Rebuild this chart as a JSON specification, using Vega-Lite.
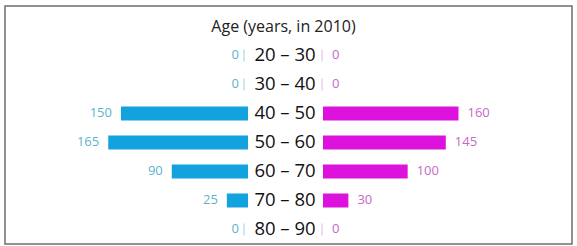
{
  "$schema": "https://vega.github.io/schema/vega-lite/v6.json",
  "width": 567,
  "height": 238,
  "autosize": {"type": "none"},
  "padding": {"left": 5, "top": 6, "right": 5, "bottom": 2},
  "background": "white",
  "title": {
    "text": "Age (years, in 2010)",
    "font": "Open Sans",
    "fontSize": 16,
    "fontWeight": "normal",
    "color": "#222222",
    "anchor": "middle",
    "frame": "group",
    "baseline": "alphabetic",
    "offset": -42,
    "dx": -5
  },
  "config": {
    "view": {"stroke": "#6e6e6e", "strokeWidth": 1.5},
    "text": {"font": "Open Sans"}
  },
  "data": {
    "values": [
      {"age": "20 – 30", "left": 0, "right": 0},
      {"age": "30 – 40", "left": 0, "right": 0},
      {"age": "40 – 50", "left": 150, "right": 160},
      {"age": "50 – 60", "left": 165, "right": 145},
      {"age": "60 – 70", "left": 90, "right": 100},
      {"age": "70 – 80", "left": 25, "right": 30},
      {"age": "80 – 90", "left": 0, "right": 0}
    ]
  },
  "resolve": {"scale": {"x": "independent"}},
  "encoding": {
    "y": {
      "field": "age",
      "type": "nominal",
      "sort": null,
      "axis": null,
      "scale": {"type": "band", "paddingInner": 0.793, "paddingOuter": 1, "align": 0.8017}
    }
  },
  "layer": [
    {
      "mark": {"type": "bar", "color": "#12a3de", "height": 14},
      "encoding": {
        "x": {"field": "left", "type": "quantitative", "axis": null,
              "scale": {"domain": [-382.5, 286.9], "reverse": true, "zero": false, "nice": false}}
      }
    },
    {
      "mark": {"type": "text", "align": "right", "baseline": "middle", "dx": -9, "fontSize": 13, "color": "#5cb3cc"},
      "encoding": {
        "x": {"field": "left", "type": "quantitative", "axis": null,
              "scale": {"domain": [-382.5, 286.9], "reverse": true, "zero": false, "nice": false}},
        "text": {"field": "left", "type": "quantitative"}
      }
    },
    {
      "transform": [{"filter": "datum.left == 0"}],
      "mark": {"type": "tick", "color": "#9fd3df", "thickness": 1.5, "size": 12, "xOffset": -4},
      "encoding": {
        "x": {"field": "left", "type": "quantitative", "axis": null,
              "scale": {"domain": [-382.5, 286.9], "reverse": true, "zero": false, "nice": false}}
      }
    },
    {
      "mark": {"type": "bar", "color": "#dd12dd", "height": 14},
      "encoding": {
        "x": {"field": "right", "type": "quantitative", "axis": null,
              "scale": {"domain": [-375.4, 294.0], "zero": false, "nice": false}}
      }
    },
    {
      "mark": {"type": "text", "align": "left", "baseline": "middle", "dx": 9, "fontSize": 13, "color": "#c46ac8"},
      "encoding": {
        "x": {"field": "right", "type": "quantitative", "axis": null,
              "scale": {"domain": [-375.4, 294.0], "zero": false, "nice": false}},
        "text": {"field": "right", "type": "quantitative"}
      }
    },
    {
      "transform": [{"filter": "datum.right == 0"}],
      "mark": {"type": "tick", "color": "#e3b8e3", "thickness": 1.5, "size": 12, "xOffset": -1},
      "encoding": {
        "x": {"field": "right", "type": "quantitative", "axis": null,
              "scale": {"domain": [-375.4, 294.0], "zero": false, "nice": false}}
      }
    },
    {
      "mark": {"type": "text", "align": "center", "baseline": "middle", "dx": -3.5, "fontSize": 18.5, "color": "#111111"},
      "encoding": {
        "text": {"field": "age", "type": "nominal"}
      }
    }
  ]
}
